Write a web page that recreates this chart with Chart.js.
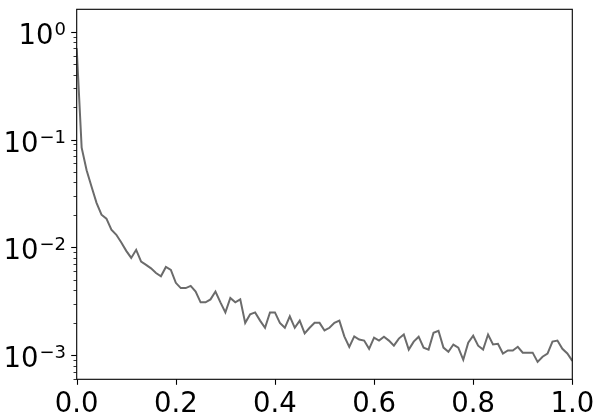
<!DOCTYPE html>
<html>
<head>
<meta charset="utf-8">
<script src="https://cdn.jsdelivr.net/npm/chart.js@4"></script>
<style>
html, body { margin: 0; padding: 0; background: #fff; }
canvas { display: block; }
</style>
</head>
<body>
<canvas id="chart" width="604" height="415"></canvas>
<script>
// samples are taken every 0.01 along x, from 0 to 1
var xStep = 0.01;
var yValues = [
    0.70, 0.084, 0.052, 0.0365, 0.0259, 0.0201, 0.0185, 0.0146, 0.0131, 0.0111,
    0.0093, 0.0080, 0.0095, 0.0074, 0.0069, 0.0064, 0.0058, 0.0054, 0.0066, 0.0062,
    0.0047, 0.0042, 0.0042, 0.0044, 0.0039, 0.0031, 0.0031, 0.0033, 0.0039, 0.0031,
    0.0025, 0.0034, 0.0031, 0.0033, 0.0020, 0.0024, 0.0025, 0.0021, 0.0018, 0.0025,
    0.0025, 0.0020, 0.0018, 0.0023, 0.0018, 0.0021, 0.0016, 0.0018, 0.0020, 0.0020,
    0.0017, 0.0018, 0.0020, 0.0021, 0.0015, 0.0012, 0.0015, 0.0014, 0.00137, 0.00115,
    0.00146, 0.00137, 0.00149, 0.00137, 0.00123, 0.00143, 0.00156, 0.00113, 0.00134, 0.00149,
    0.00118, 0.00113, 0.00162, 0.00169, 0.00118, 0.00108, 0.00126, 0.00118, 0.00091, 0.00131,
    0.00152, 0.00123, 0.00113, 0.00156, 0.00126, 0.00128, 0.00104, 0.00111, 0.00111, 0.00120,
    0.00106, 0.00106, 0.00106, 0.00087, 0.00097, 0.00104, 0.00134, 0.00137, 0.00115, 0.00104,
    0.00089
];
var xTicks = [0, 0.2, 0.4, 0.6, 0.8, 1.0];
var xTickLabels = ['0.0', '0.2', '0.4', '0.6', '0.8', '1.0'];
// y labels are 10 with a raised exponent
var yDecades = [-3, -2, -1, 0];
var yExponents = ['\u22123', '\u22122', '\u22121', '0'];

var points = yValues.map(function (v, i) {
    return { x: i * xStep, y: v };
});

// matplotlib style frame, major/minor tick marks and 10^n labels
var frameTicks = {
    id: 'frameTicks',
    afterDraw: function (chart) {
        var ctx = chart.ctx, a = chart.chartArea;
        var xs = chart.scales.x, ys = chart.scales.y;
        ctx.save();
        ctx.strokeStyle = '#000';
        for (var e = -4; e <= 0; e++) {
            for (var k = 1; k <= 9; k++) {
                var v = k * Math.pow(10, e);
                if (v < ys.min || v > ys.max) continue;
                var py = Math.round(ys.getPixelForValue(v)) + 0.5;
                var len = k === 1 ? 5.5 : 3.2;
                ctx.lineWidth = k === 1 ? 1.1 : 0.8;
                ctx.beginPath();
                ctx.moveTo(a.left - len, py);
                ctx.lineTo(a.left, py);
                ctx.stroke();
            }
        }
        ctx.lineWidth = 1.1;
        xTicks.forEach(function (v) {
            var px = Math.round(xs.getPixelForValue(v)) + 0.5;
            ctx.beginPath();
            ctx.moveTo(px, a.bottom);
            ctx.lineTo(px, a.bottom + 5.5);
            ctx.stroke();
        });
        ctx.strokeRect(a.left, a.top, a.right - a.left, a.bottom - a.top);

        ctx.fillStyle = '#000';
        ctx.textBaseline = 'alphabetic';
        ctx.textAlign = 'left';
        var right = a.left - 11.7;
        yDecades.forEach(function (d, i) {
            var py = ys.getPixelForValue(Math.pow(10, d));
            ctx.font = '27.5px "DejaVu Sans"';
            var wBase = ctx.measureText('10').width;
            ctx.font = '18px "DejaVu Sans"';
            var wExp = ctx.measureText(yExponents[i]).width;
            var x0 = right - wBase - wExp;
            ctx.font = '27.5px "DejaVu Sans"';
            ctx.fillText('10', x0, py + 12);
            ctx.font = '18px "DejaVu Sans"';
            ctx.fillText(yExponents[i], x0 + wBase + 1, py + 3);
        });
        ctx.restore();
    }
};

new Chart(document.getElementById('chart'), {
    type: 'line',
    data: {
        datasets: [{
            data: points,
            borderColor: '#6b6b6b',
            borderWidth: 2,
            pointRadius: 0,
            tension: 0,
            fill: false
        }]
    },
    options: {
        responsive: false,
        animation: false,
        devicePixelRatio: 1,
        layout: { padding: { top: 9.3, right: 31.7, left: 0, bottom: 0 } },
        plugins: { legend: { display: false }, tooltip: { enabled: false } },
        scales: {
            x: {
                type: 'linear',
                min: 0,
                max: 1,
                afterFit: function (scale) { scale.height = 35.7; },
                border: { display: false },
                grid: { drawOnChartArea: false, drawTicks: false },
                ticks: {
                    stepSize: 0.2,
                    padding: 9,
                    color: '#000',
                    font: { family: 'DejaVu Sans', size: 27.5 },
                    maxRotation: 0,
                    callback: function (value) {
                        var i = xTicks.findIndex(function (t) { return Math.abs(t - value) < 1e-6; });
                        return i >= 0 ? xTickLabels[i] : '';
                    }
                }
            },
            y: {
                type: 'logarithmic',
                min: 6.05e-4,
                max: 1.61,
                afterFit: function (scale) {
                    scale.width = 76.7;
                    scale.paddingTop = 0;
                    scale.paddingBottom = 0;
                },
                border: { display: false },
                grid: { drawOnChartArea: false, drawTicks: false },
                ticks: { display: false }
            }
        }
    },
    plugins: [frameTicks]
});
</script>
</body>
</html>
